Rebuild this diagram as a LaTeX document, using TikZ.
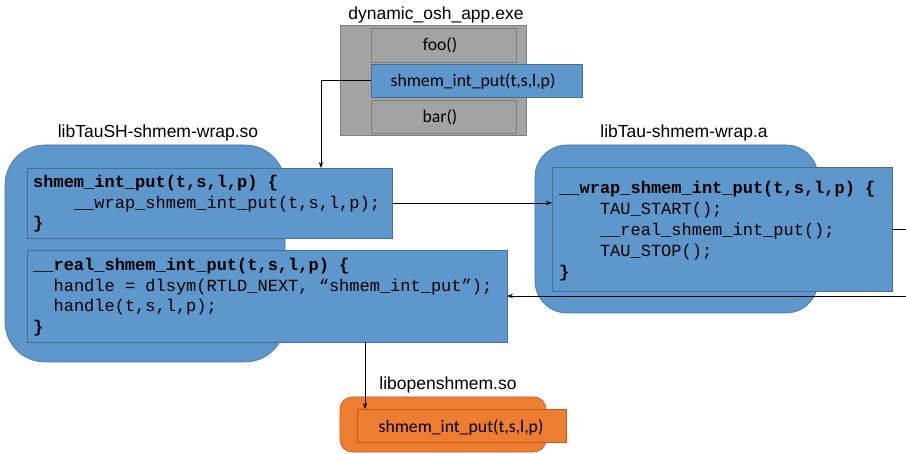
\documentclass[tikz,border=0pt]{standalone}
\usepackage{fontspec}
\setmainfont{Liberation Sans}
\setmonofont{Liberation Mono}
\newfontfamily\carfont{Carlito}
\usetikzlibrary{arrows.meta,calc}
\definecolor{bluef}{HTML}{5E97CB}
\definecolor{blued}{HTML}{41719C}
\definecolor{grayf}{HTML}{A3A3A3}
\definecolor{grayd}{HTML}{7F7F7F}
\definecolor{orf}{HTML}{ED7D31}
\definecolor{ord}{HTML}{C55A11}
\tikzset{
  box/.style={draw, line width=0.6pt, inner sep=0pt, outer sep=0pt, anchor=north west},
  bbox/.style={box, fill=bluef, draw=blued},
  gbox/.style={box, fill=grayf, draw=grayd},
  obox/.style={box, fill=orf, draw=ord},
  lbl/.style={font=\fontsize{17.5}{20}\selectfont, inner sep=0pt},
  small/.style={font=\carfont\fontsize{17.7}{20}\selectfont, inner sep=0pt},
  code/.style={font=\ttfamily\fontsize{17}{20.5}\selectfont, align=left, anchor=west, inner sep=0pt},
  arr/.style={line width=0.9pt, -{Stealth[length=6pt,width=4.5pt]}},
  ln/.style={line width=0.9pt}
}
\begin{document}
\begin{tikzpicture}[x=1pt,y=-1pt]
\useasboundingbox (0,0) rectangle (906,454);
% app
\node[lbl] (tapp) at (436,15) {dynamic\_osh\_app.exe};
\node[gbox, minimum width=186pt, minimum height=110pt] (app) at (340,25) {};
\node[gbox, minimum width=145pt, minimum height=34pt] (foo) at (371,28) {};
\node[small] (foot) at (440,45) {foo()};
\node[bbox, minimum width=211pt, minimum height=33pt] (appput) at (371,64) {};
\node[small] (appputt) at (473,81) {shmem\_int\_put(t,s,l,p)};
\node[gbox, minimum width=145pt, minimum height=33pt] (bar) at (371,100) {};
\node[small] (bart) at (440,117) {bar()};
% left lib
\node[lbl] (tlib1) at (158,133) {libTauSH-shmem-wrap.so};
\node[bbox, rounded corners=40pt, minimum width=280pt, minimum height=217pt] (lib1) at (5,145) {};
\node[bbox, minimum width=365pt, minimum height=70pt] (box1) at (27,168) {};
\node[code] (box1t) at (33,204) {\textbf{shmem\_int\_put(t,s,l,p) \{}\\
\phantom{xxxx}\_\_wrap\_shmem\_int\_put(t,s,l,p);\\
\textbf{\}}};
\node[bbox, minimum width=480pt, minimum height=92pt] (box2) at (27,250) {};
\node[code] (box2t) at (33,297) {\textbf{\_\_real\_shmem\_int\_put(t,s,l,p) \{}\\
\phantom{xx}handle = dlsym(RTLD\_NEXT, “shmem\_int\_put”);\\
\phantom{xx}handle(t,s,l,p);\\
\textbf{\}}};
% right lib
\node[lbl] (tlib2) at (684,133) {libTau-shmem-wrap.a};
\node[bbox, rounded corners=32pt, minimum width=283pt, minimum height=168pt] (lib2) at (535,145) {};
\node[bbox, minimum width=340pt, minimum height=124pt] (box3) at (552,167) {};
\node[code, font=\ttfamily\fontsize{17}{21}\selectfont] (box3t) at (559,231) {\textbf{\_\_wrap\_shmem\_int\_put(t,s,l,p) \{}\\
\phantom{xxxx}TAU\_START();\\
\phantom{xxxx}\_\_real\_shmem\_int\_put();\\
\phantom{xxxx}TAU\_STOP();\\
\textbf{\}}};
% openshmem
\node[lbl] (tlib3) at (448,385) {libopenshmem.so};
\node[obox, rounded corners=12pt, minimum width=206pt, minimum height=55pt] (lib3) at (340,397) {};
\node[obox, minimum width=209pt, minimum height=33pt] (orin) at (357,409) {};
\node[small] (orint) at (461,427) {shmem\_int\_put(t,s,l,p)};
% connectors
\coordinate (r1) at (906,229);
\coordinate (r2) at (906,296);
\draw[arr] (appput.west) -| ([xshift=294pt]box1.north west);
\draw[arr] (box1.east) -- (box1.east -| box3.west);
\draw[ln] (box3.east) -- (r1);
\draw[arr] (r2) -- (box2.east);
\draw[arr] ([xshift=8pt]orin.north west |- box2.south) -- ([xshift=8pt]orin.north west);
\end{tikzpicture}
\end{document}
